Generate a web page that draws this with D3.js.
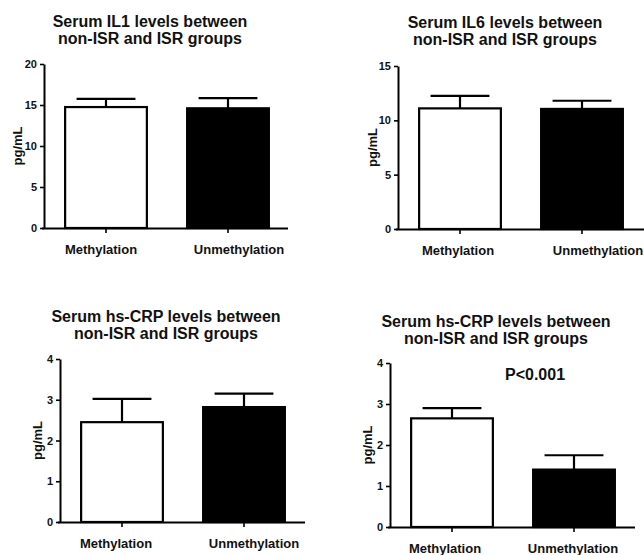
<!DOCTYPE html>
<html>
<head>
<meta charset="utf-8">
<script src="https://cdn.jsdelivr.net/npm/d3@7"></script>
<style>
  body { margin: 0; background: #fff; }
  svg { display: block; font-family: "Liberation Sans", Arial, sans-serif; }
</style>
</head>
<body>
<svg id="chart" width="644" height="555"></svg>
<script>
// groups shared by all four panels
const categories = ["Methylation", "Unmethylation"];

// panel values (mean and upper error, pg/mL)
const il1Means = [14.75, 14.6];
const il1Errors = [1.0, 1.25];
const il6Means = [11.1, 11.05];
const il6Errors = [1.15, 0.75];
const crpMeansA = [2.45, 2.82];
const crpErrorsA = [0.57, 0.33];
const crpMeansB = [2.65, 1.4];
const crpErrorsB = [0.25, 0.35];

const il1Ticks = [0, 5, 10, 15, 20];
const il6Ticks = [0, 5, 10, 15];
const crpTicks = [0, 1, 2, 3, 4];

const titleIL1 = ["Serum IL1 levels between", "non-ISR and ISR groups"];
const titleIL6 = ["Serum IL6 levels between", "non-ISR and ISR groups"];
const titleCRP = ["Serum hs-CRP levels between", "non-ISR and ISR groups"];

const fills = ["#ffffff", "#000000"];
const ink = "#111";

const svg = d3.select("#chart");

// layout of each panel (labelShift nudges the category labels like the pasted original)
const panels = [
  { means: il1Means, errors: il1Errors, ticks: il1Ticks, title: titleIL1,
    x0: 44, x1: 288, yTop: 64, yBase: 228, titleX: 150, titleY: 27, labelX: 17,
    labelShift: [-5, 11] },
  { means: il6Means, errors: il6Errors, ticks: il6Ticks, title: titleIL6,
    x0: 398, x1: 644, yTop: 66, yBase: 229, titleX: 505, titleY: 28, labelX: 372,
    labelShift: [-2, 16] },
  { means: crpMeansA, errors: crpErrorsA, ticks: crpTicks, title: titleCRP,
    x0: 60, x1: 305, yTop: 359, yBase: 522, titleX: 166, titleY: 322, labelX: 37,
    labelShift: [-6, 10] },
  { means: crpMeansB, errors: crpErrorsB, ticks: crpTicks, title: titleCRP,
    x0: 390, x1: 635, yTop: 363, yBase: 527, titleX: 496, titleY: 327, labelX: 367,
    labelShift: [-7, -1], note: "P<0.001" }
];

panels.forEach(drawPanel);

function drawPanel(p) {
  const g = svg.append("g");

  const y = d3.scaleLinear()
    .domain([0, d3.max(p.ticks)])
    .range([p.yBase, p.yTop]);

  const x = d3.scaleBand()
    .domain(categories)
    .range([p.x0 + 1, p.x0 + 245])
    .paddingInner(0.33)
    .paddingOuter(0.165);

  // bars
  g.selectAll(".bar")
    .data(categories)
    .join("rect")
    .attr("class", "bar")
    .attr("x", d => x(d))
    .attr("y", (d, i) => y(p.means[i]))
    .attr("width", x.bandwidth())
    .attr("height", (d, i) => y(0) - y(p.means[i]))
    .attr("fill", (d, i) => fills[i])
    .attr("stroke", "#000")
    .attr("stroke-width", 2.2);

  // upper error bars
  const capHalf = x.bandwidth() * 0.36;
  const err = g.selectAll(".err")
    .data(categories)
    .join("g")
    .attr("class", "err");

  err.append("line")
    .attr("x1", d => x(d) + x.bandwidth() / 2)
    .attr("x2", d => x(d) + x.bandwidth() / 2)
    .attr("y1", (d, i) => y(p.means[i]))
    .attr("y2", (d, i) => y(p.means[i] + p.errors[i]))
    .attr("stroke", "#000")
    .attr("stroke-width", 2.2);

  err.append("line")
    .attr("x1", d => x(d) + x.bandwidth() / 2 - capHalf)
    .attr("x2", d => x(d) + x.bandwidth() / 2 + capHalf)
    .attr("y1", (d, i) => y(p.means[i] + p.errors[i]))
    .attr("y2", (d, i) => y(p.means[i] + p.errors[i]))
    .attr("stroke", "#000")
    .attr("stroke-width", 2.2);

  // y axis
  const yAxis = g.append("g")
    .attr("transform", `translate(${p.x0},0)`)
    .call(d3.axisLeft(y).tickValues(p.ticks).tickFormat(d3.format("d"))
      .tickSize(4).tickPadding(3).tickSizeOuter(0));

  yAxis.select(".domain").attr("stroke", "#000").attr("stroke-width", 2);
  yAxis.selectAll(".tick line").attr("stroke", "#000").attr("stroke-width", 1.6);
  yAxis.selectAll(".tick text")
    .attr("font-size", 11)
    .attr("font-weight", "bold")
    .attr("font-family", "Liberation Sans, Arial, sans-serif")
    .attr("fill", ink);

  // x axis
  const xAxis = g.append("g")
    .attr("transform", `translate(0,${p.yBase})`)
    .call(d3.axisBottom(x).tickSize(5).tickPadding(12).tickSizeOuter(0));

  xAxis.select(".domain")
    .attr("d", `M${p.x0 - 2},0.5H${p.x1}`)
    .attr("stroke", "#000")
    .attr("stroke-width", 2);
  xAxis.selectAll(".tick line").attr("stroke", "#000").attr("stroke-width", 1.6);
  xAxis.selectAll(".tick text")
    .attr("dx", (d, i) => p.labelShift[i])
    .attr("font-size", 13)
    .attr("font-weight", "bold")
    .attr("font-family", "Liberation Sans, Arial, sans-serif")
    .attr("fill", ink);

  // axis label
  g.append("text")
    .attr("transform", `translate(${p.labelX},${(p.yTop + p.yBase) / 2}) rotate(-90)`)
    .attr("text-anchor", "middle")
    .attr("dy", "0.35em")
    .attr("font-size", 13)
    .attr("font-weight", "bold")
    .attr("fill", ink)
    .text("pg/mL");

  // title
  g.append("text")
    .attr("x", p.titleX)
    .attr("y", p.titleY)
    .attr("text-anchor", "middle")
    .attr("font-size", 16)
    .attr("font-weight", "bold")
    .attr("fill", ink)
    .selectAll("tspan")
    .data(p.title)
    .join("tspan")
    .attr("x", p.titleX)
    .attr("dy", (d, i) => i === 0 ? 0 : 17)
    .text(d => d);

  if (p.note) {
    g.append("text")
      .attr("x", 535)
      .attr("y", 380)
      .attr("text-anchor", "middle")
      .attr("font-size", 16)
      .attr("font-weight", "bold")
      .attr("fill", ink)
      .text(p.note);
  }
}
</script>
</body>
</html>
